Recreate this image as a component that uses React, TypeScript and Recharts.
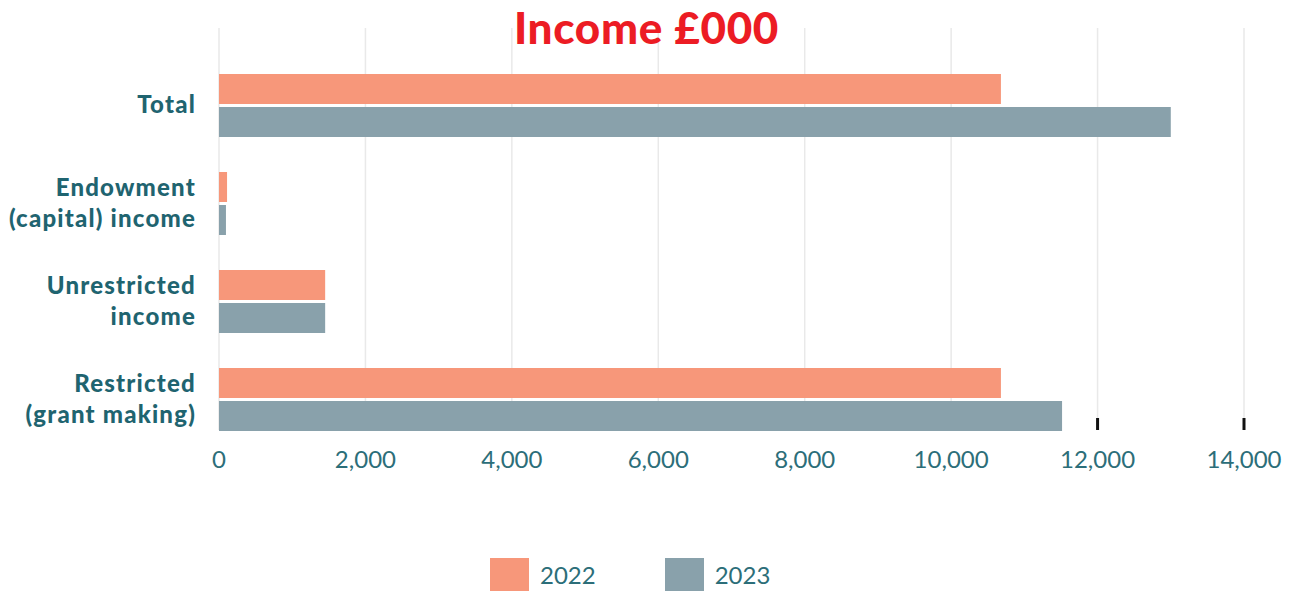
import React from "react";
import { BarChart, Bar, XAxis, YAxis, CartesianGrid, Legend } from "recharts";

// categories, top to bottom; "\n" marks a line break in the axis label
const categories = [
  "Total",
  "Endowment\n(capital) income",
  "Unrestricted\nincome",
  "Restricted\n(grant making)",
];

const income2022 = [10680, 110, 1450, 10680];
const income2023 = [13000, 95, 1450, 11515];

const xTicks = [0, 2000, 4000, 6000, 8000, 10000, 12000, 14000];
const seriesNames = ["2022", "2023"];

const COLOR_2022 = "#f7977a";
const COLOR_2023 = "#89a1ab";
const TEAL = "#1f6470";

const data = categories.map((name, i) => ({
  name,
  y2022: income2022[i],
  y2023: income2023[i],
}));

const CategoryTick = (props: any) => {
  const { x, y, payload } = props;
  const lines: string[] = String(payload.value).split("\n");
  const lh = 31;
  const start = -((lines.length - 1) * lh) / 2;
  return (
    <text
      x={x}
      y={y}
      textAnchor="end"
      fill={TEAL}
      fontFamily="Lato, sans-serif"
      fontWeight={900}
      fontSize={24}
      letterSpacing={1.2}
    >
      {lines.map((l, i) => (
        <tspan key={i} x={x} dy={i === 0 ? start + 8 : lh}>
          {l}
        </tspan>
      ))}
    </text>
  );
};

// grid line plus the short dark tick at its foot, kept behind the bars
const GridLine = (props: any) => {
  const { x1, y1, x2, y2, index } = props;
  return (
    <g>
      <line x1={x1} y1={y1} x2={x2} y2={y2} stroke="#e9e9e9" strokeWidth={1.5} />
      {index !== 0 && (
        <line x1={x1} y1={y2 - 12} x2={x2} y2={y2} stroke="#111" strokeWidth={3} />
      )}
    </g>
  );
};

const LegendBox = () => (
  <div
    style={{
      height: 101,
      paddingTop: 68,
      paddingLeft: 490,
      boxSizing: "border-box",
      display: "flex",
      alignItems: "center",
      fontFamily: "Lato, sans-serif",
      fontSize: 24,
      color: "#2c6e79",
    }}
  >
    {seriesNames.map((s, i) => (
      <div
        key={s}
        style={{ display: "flex", alignItems: "center", marginRight: 69 }}
      >
        <div
          style={{
            width: 39,
            height: 33,
            background: i === 0 ? COLOR_2022 : COLOR_2023,
            marginRight: 11,
          }}
        />
        <span>{s}</span>
      </div>
    ))}
  </div>
);

export default function App() {
  return (
    <div
      style={{
        position: "absolute",
        left: 0,
        top: 0,
        width: 1293,
        height: 591,
        background: "#fff",
      }}
    >
      <div
        style={{
          position: "absolute",
          left: 0,
          top: 1,
          width: 1293,
          textAlign: "center",
          fontFamily: "Lato, sans-serif",
          fontWeight: 900,
          fontSize: 44,
          letterSpacing: 0.7,
          color: "#ec1c24",
          zIndex: 2,
        }}
      >
        Income £000
      </div>
      <BarChart
        width={1293}
        height={591}
        data={data}
        layout="vertical"
        margin={{ top: 28, right: 49, bottom: 0, left: 0 }}
        barSize={30}
        barGap={3}
      >
        <CartesianGrid horizontal={false} vertical={GridLine} />
        <XAxis
          type="number"
          domain={[0, 14000]}
          ticks={xTicks}
          height={60}
          axisLine={false}
          tickLine={false}
          tickSize={-12}
          tickMargin={33}
          tickFormatter={(v: number) => v.toLocaleString("en-GB")}
          tick={{
            fill: "#2c6e79",
            fontFamily: "Lato, sans-serif",
            fontSize: 24,
          }}
        />
        <YAxis
          type="category"
          dataKey="name"
          width={219}
          axisLine={false}
          tickLine={false}
          tickSize={0}
          tickMargin={23}
          padding={{ top: 28, bottom: -18 }}
          tick={<CategoryTick />}
        />
        <Bar
          dataKey="y2022"
          name={seriesNames[0]}
          fill={COLOR_2022}
          isAnimationActive={false}
        />
        <Bar
          dataKey="y2023"
          name={seriesNames[1]}
          fill={COLOR_2023}
          isAnimationActive={false}
        />
        <Legend
          verticalAlign="bottom"
          wrapperStyle={{ left: 0, width: 1293 }}
          content={<LegendBox />}
        />
      </BarChart>
    </div>
  );
}
